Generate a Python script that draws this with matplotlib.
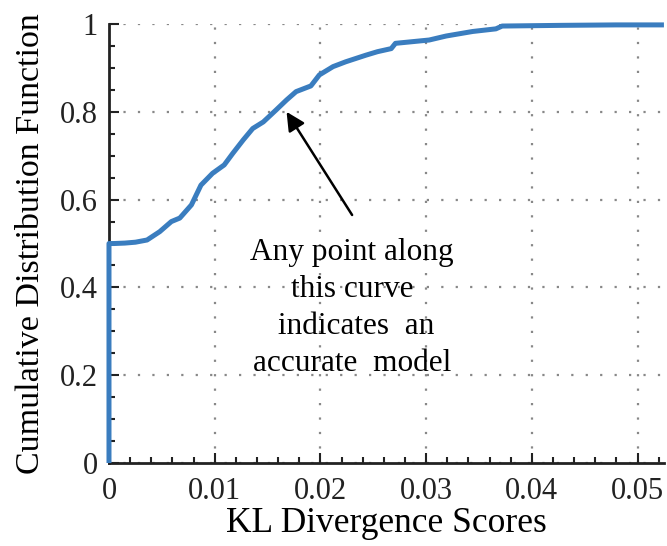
import numpy as np
import matplotlib.pyplot as plt
from matplotlib.ticker import MultipleLocator

plt.rcParams['font.family'] = ['Liberation Serif', 'DejaVu Serif']

# Puntos de la curva CDF (score KL, fracción acumulada)
kl_scores = [0.0, 0.0, 0.0005, 0.0015, 0.0025, 0.0036, 0.0048, 0.0059, 0.0067,
             0.0078, 0.0087, 0.0098, 0.0109, 0.0117, 0.0127, 0.0136, 0.0146,
             0.0158, 0.0168, 0.0177, 0.0191, 0.0199, 0.0212, 0.0224, 0.0243,
             0.0254, 0.0267, 0.0271, 0.0303, 0.0319, 0.0344, 0.0366, 0.0372,
             0.0429, 0.0480, 0.0525]
cdf = [0.0, 0.5, 0.5, 0.501, 0.503, 0.508, 0.527, 0.55, 0.558,
       0.588, 0.633, 0.66, 0.679, 0.705, 0.736, 0.762, 0.777,
       0.804, 0.827, 0.846, 0.859, 0.884, 0.903, 0.914, 0.929,
       0.937, 0.944, 0.956, 0.9636, 0.9727, 0.983, 0.989, 0.9954,
       0.997, 0.998, 0.998]

xticks = [0, 0.01, 0.02, 0.03, 0.04, 0.05]
xtick_labels = ['0', '0.01', '0.02', '0.03', '0.04', '0.05']
yticks = [0, 0.2, 0.4, 0.6, 0.8, 1.0]
ytick_labels = ['0', '0.2', '0.4', '0.6', '0.8', '1']

fig = plt.figure(figsize=(6.67, 5.46), dpi=100)
ax = fig.add_axes([0.1634, 0.152, 0.832, 0.804])

ax.plot(kl_scores, cdf, color='#3a7dbf', linewidth=3.6, solid_capstyle='butt',
        solid_joinstyle='round', zorder=3, clip_on=False)

ax.set_xlim(0, 0.0525)
ax.set_ylim(0, 1)
ax.set_xticks(xticks)
ax.set_xticklabels(xtick_labels)
ax.set_yticks(yticks)
ax.set_yticklabels(ytick_labels)
ax.xaxis.set_minor_locator(MultipleLocator(0.002))
ax.yaxis.set_minor_locator(MultipleLocator(0.05))
ax.tick_params(which='major', direction='in', length=7, width=1.5, labelsize=22,
               colors='#222222')
ax.tick_params(axis='x', which='major', pad=10)
ax.tick_params(axis='y', which='major', pad=8)
ax.tick_params(which='minor', direction='in', length=4, width=1.5, colors='#222222')

ax.grid(True, which='major', linestyle=(0, (1, 5.5)), color='#888888', linewidth=1.6)
for s in ['top', 'right']:
    ax.spines[s].set_visible(False)
for s in ['left', 'bottom']:
    ax.spines[s].set_linewidth(2)
    ax.spines[s].set_color('#222222')

ax.set_xlabel('KL Divergence Scores', fontsize=25.5, labelpad=1)
ax.set_ylabel('Cumulative Distribution Function', fontsize=24.5, labelpad=10)

# Flecha hacia la curva y texto explicativo
ax.annotate('', xy=(0.0168, 0.80), xytext=(0.0230, 0.565),
            arrowprops=dict(arrowstyle='-|>', color='black', lw=1.8,
                            mutation_scale=28, shrinkA=0, shrinkB=0),
            zorder=4)
ax.text(0.0230, 0.353, 'Any point along\nthis curve\n indicates  an\naccurate  model',
        ha='center', va='center', fontsize=22.5, linespacing=1.36, zorder=4)

fig.savefig('out.png', dpi=100)
